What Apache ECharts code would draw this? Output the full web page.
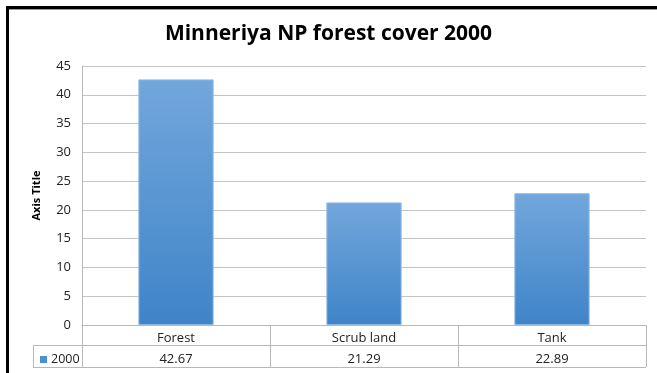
<!DOCTYPE html>
<html><head><meta charset="utf-8">
<script src="https://cdn.jsdelivr.net/npm/echarts@6/dist/echarts.min.js"></script>
<style>html,body{margin:0;padding:0;background:#fff}#c{width:657px;height:373px}</style>
</head><body><div id="c"></div>
<script>
const categories = ['Forest', 'Scrub land', 'Tank'];
const seriesName = '2000';
const values = [42.67, 21.29, 22.89];
const yTicks = [0, 5, 10, 15, 20, 25, 30, 35, 40, 45];

const chart = echarts.init(document.getElementById('c'));
const F = 'Open Sans, Lato, sans-serif';
chart.setOption({
  animation: false,
  backgroundColor: '#fff',
  title: {
    text: 'Minneriya NP forest cover 2000',
    left: 'center', top: 19,
    textStyle: { fontFamily: F, fontSize: 21, fontWeight: 'bold', color: '#000' }
  },
  legend: {
    data: [seriesName], left: 35, top: 348,
    itemWidth: 7, itemHeight: 7, itemGap: 4,
    icon: 'rect',
    itemStyle: { borderWidth: 0, color: '#4a8fd2' },
    textStyle: { fontFamily: F, fontSize: 12.5, color: '#222', padding: [0, 0, 0, -1] }
  },
  grid: { left: 82, right: 11, top: 66, bottom: 48 },
  xAxis: {
    type: 'category', data: categories,
    axisLine: { show: true, lineStyle: { color: '#b8b8b8' } },
    axisTick: { show: true, length: 42, lineStyle: { color: '#b8b8b8' } },
    axisLabel: {
      interval: 0, margin: 3,
      formatter: (v, i) => '{a|' + v + '}\n{b|' + values[i].toFixed(2) + '}',
      rich: {
        a: { fontFamily: F, fontSize: 13, color: '#222', lineHeight: 21 },
        b: { fontFamily: F, fontSize: 13, color: '#222', lineHeight: 21 }
      }
    }
  },
  yAxis: {
    type: 'value', min: yTicks[0], max: yTicks[yTicks.length - 1], interval: 5,
    name: 'Axis Title', nameLocation: 'middle', nameGap: 40, nameRotate: 90,
    nameTextStyle: { fontFamily: F, fontSize: 11, fontWeight: 'bold', color: '#000' },
    axisLine: { show: true, lineStyle: { color: '#b8b8b8' } },
    axisTick: { show: false },
    axisLabel: { fontFamily: F, fontSize: 13, color: '#222', margin: 11 },
    splitLine: { lineStyle: { color: '#c4c4c4' } }
  },
  series: [{
    name: seriesName, type: 'bar', data: values, barWidth: '40%',
    itemStyle: {
      color: new echarts.graphic.LinearGradient(0, 0, 0, 1, [
        { offset: 0, color: '#72a7dc' },
        { offset: 1, color: '#3f84c8' }
      ]),
      borderColor: '#8ab6e3', borderWidth: 1
    }
  }],
  graphic: [
    { type: 'line', shape: { x1: 33, y1: 345.5, x2: 646, y2: 345.5 }, style: { stroke: '#b8b8b8', lineWidth: 1 } },
    { type: 'line', shape: { x1: 33, y1: 367.5, x2: 646, y2: 367.5 }, style: { stroke: '#b8b8b8', lineWidth: 1 } },
    { type: 'line', shape: { x1: 33.5, y1: 345, x2: 33.5, y2: 368 }, style: { stroke: '#b8b8b8', lineWidth: 1 } },
    { type: 'rect', shape: { x: 6, y: 6, width: 651, height: 3 }, style: { fill: '#000' } },
    { type: 'rect', shape: { x: 6, y: 6, width: 3, height: 367 }, style: { fill: '#000' } },
    { type: 'line', shape: { x1: 9, y1: 9.5, x2: 657, y2: 9.5 }, style: { stroke: '#999', lineWidth: 1 } }
  ]
});
</script></body></html>
